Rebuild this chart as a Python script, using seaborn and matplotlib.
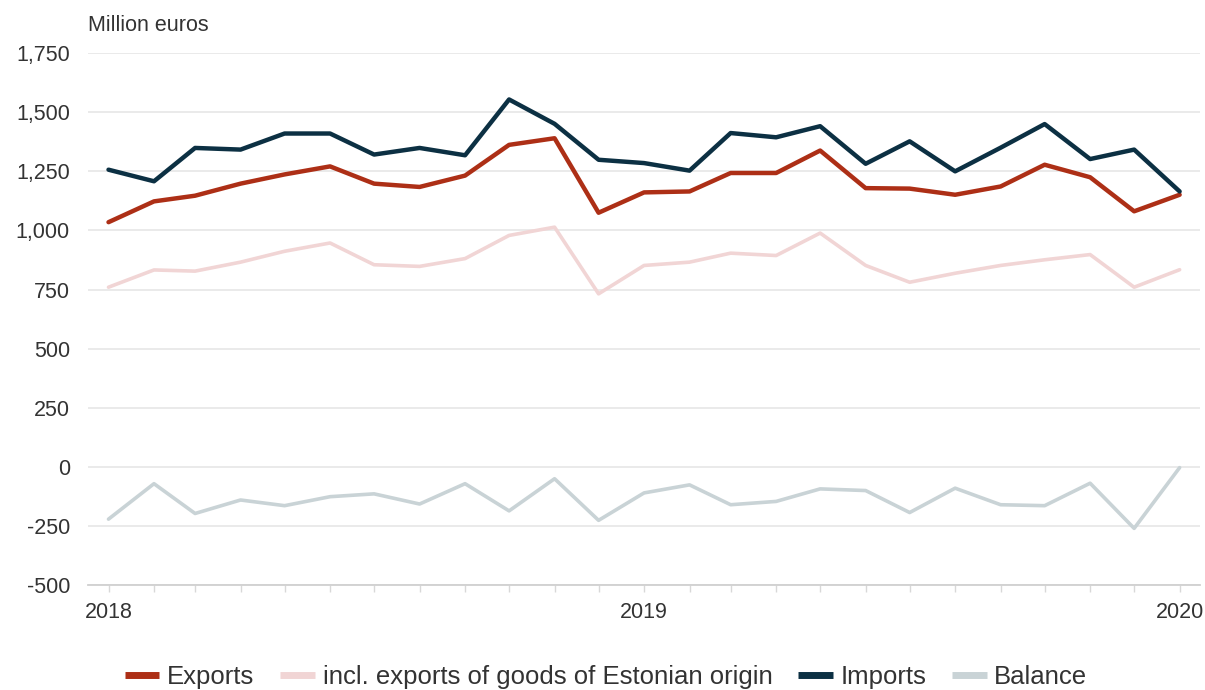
import matplotlib
matplotlib.use("Agg")
import matplotlib.pyplot as plt
import seaborn as sns
import pandas as pd
import numpy as np

months = pd.date_range("2018-01-01", periods=25, freq="MS")
exports = [1035, 1123, 1147, 1198, 1237, 1271, 1198, 1184, 1232, 1362, 1390, 1075,
           1161, 1165, 1243, 1243, 1338, 1179, 1177, 1151, 1186, 1278, 1225, 1081, 1151]
estonian = [760, 833, 828, 866, 912, 947, 855, 848, 881, 979, 1014, 732,
            852, 866, 904, 894, 989, 852, 781, 819, 852, 876, 898, 760, 834]
imports = [1257, 1208, 1349, 1342, 1410, 1410, 1321, 1349, 1318, 1554, 1451, 1299,
           1285, 1253, 1412, 1394, 1441, 1282, 1377, 1250, 1350, 1450, 1302, 1342, 1165]
balance = [-221, -71, -197, -140, -164, -126, -114, -157, -71, -186, -50, -226,
           -110, -76, -160, -146, -93, -100, -193, -90, -160, -164, -69, -260, -3]

series_names = ["Exports", "incl. exports of goods of Estonian origin", "Imports", "Balance"]
colors = ["#ad2f16", "#f1d5d5", "#0c3043", "#c9d3d6"]
yticks = [-500, -250, 0, 250, 500, 750, 1000, 1250, 1500, 1750]

sns.set_theme(style="white")
plt.rcParams['font.family'] = ['Liberation Sans', 'DejaVu Sans']

df = pd.DataFrame({
    "month": np.tile(months, 4),
    "value": exports + estonian + imports + balance,
    "series": np.repeat(series_names, len(months)),
})

fig = plt.figure(figsize=(12.05, 6.90), dpi=100)
ax = fig.add_axes([0.073, 0.152, 0.923, 0.771])

widths = {"Exports": 3.2, "incl. exports of goods of Estonian origin": 2.6,
          "Imports": 3.2, "Balance": 2.6}
draw_order = ["Balance", "incl. exports of goods of Estonian origin", "Exports", "Imports"]
for name in draw_order:
    sub = df[df["series"] == name]
    sns.lineplot(data=sub, x="month", y="value", ax=ax,
                 color=colors[series_names.index(name)],
                 linewidth=widths[name], legend=False)

ax.set_ylim(-500, 1750)
ax.set_yticks(yticks)
ax.set_yticklabels([f"{v:,}" for v in yticks])
pad = pd.Timedelta(days=14)
ax.set_xlim(months[0] - pad, months[-1] + pad)
ax.set_xticks(months)
ax.set_xticklabels([str(m.year) if m.month == 1 else "" for m in months])
ax.set_xlabel("")
ax.set_ylabel("")

ax.grid(axis="y", color="#e6e6e6", linewidth=1.2)
ax.grid(axis="x", visible=False)
for s in ["top", "right", "left"]:
    ax.spines[s].set_visible(False)
ax.spines["bottom"].set_color("#d0d0d0")
ax.spines["bottom"].set_linewidth(1.3)
ax.tick_params(axis="y", length=0, pad=13, labelsize=15.5, labelcolor="#333333")
ax.tick_params(axis="x", length=5, width=1, color="#d8d8d8", pad=7,
               labelsize=15.5, labelcolor="#333333", bottom=True)

fig.text(0.073, 0.963, "Million euros", fontsize=15.5, color="#333333",
         ha="left", va="center")

handles = [plt.Line2D([0], [0], color=c, linewidth=5, solid_capstyle="butt") for c in colors]
fig.legend(handles, series_names, loc="center", bbox_to_anchor=(0.503, 0.019),
           ncol=4, frameon=False, fontsize=18.5, handlelength=1.35,
           handletextpad=0.3, columnspacing=1.0, labelcolor="#333333")

fig.savefig("out.png", dpi=100)
